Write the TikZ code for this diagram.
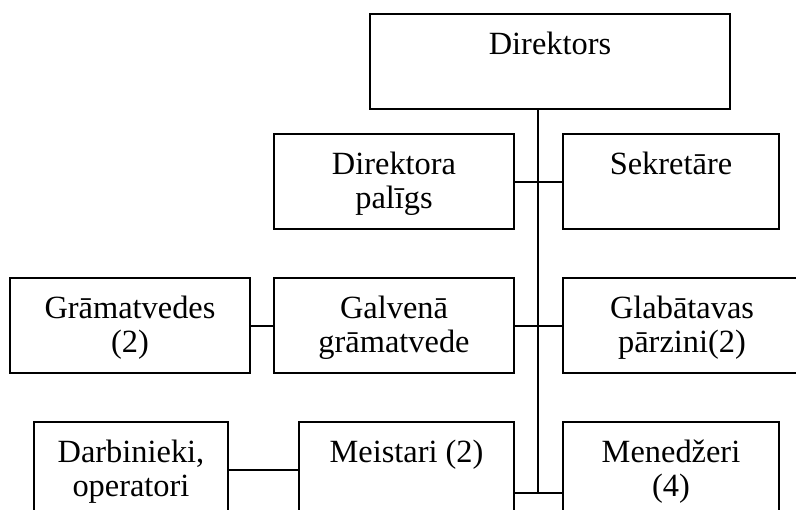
\documentclass[tikz,border=0pt]{standalone}
\usepackage{fontspec}
\setmainfont{Liberation Serif}
\newcommand{\orgtext}[3]{\parbox[t][#2][t]{#1}{\centering\fontsize{24.3pt}{25.5pt}\selectfont\rule{0pt}{30.5pt}#3}}
\tikzset{
  orgbox/.style={draw, line width=1.5pt, inner sep=0pt, anchor=north west},
  link/.style={line width=1.5pt}
}
\begin{document}
\begin{tikzpicture}[x=0.75pt, y=-0.75pt]
\useasboundingbox (0,0) rectangle (796,510);
\clip (0,0) rectangle (796,510);
\node[orgbox] (dir)   at (369,13)  {\orgtext{270pt}{71.25pt}{Direktors}};
\node[orgbox] (dp)    at (273,133) {\orgtext{180pt}{71.25pt}{Direktora\\palīgs}};
\node[orgbox] (sek)   at (562,133) {\orgtext{162pt}{71.25pt}{Sekretāre}};
\node[orgbox] (gram)  at (9,277)   {\orgtext{180pt}{71.25pt}{Grāmatvedes\\(2)}};
\node[orgbox] (galv)  at (273,277) {\orgtext{180pt}{71.25pt}{Galvenā\\grāmatvede}};
\node[orgbox] (glab)  at (562,277) {\orgtext{178.5pt}{71.25pt}{Glabātavas\\pārzini(2)}};
\node[orgbox] (darb)  at (33,421)  {\orgtext{145.5pt}{71.25pt}{Darbinieki,\\operatori}};
\node[orgbox] (meist) at (298,421) {\orgtext{161.25pt}{71.25pt}{Meistari (2)}};
\node[orgbox] (men)   at (562,421) {\orgtext{162pt}{71.25pt}{Menedžeri\\(4)}};
\coordinate (trunkend) at (538,493);
\draw[link] (dir.south -| trunkend) -- (trunkend);
\draw[link] (dp.east) -- (sek.west);
\draw[link] (gram.east) -- (galv.west);
\draw[link] (galv.east) -- (glab.west);
\draw[link] (darb.east) -- (meist.west);
\draw[link] (meist.east |- trunkend) -- (men.west |- trunkend);
\end{tikzpicture}
\end{document}
